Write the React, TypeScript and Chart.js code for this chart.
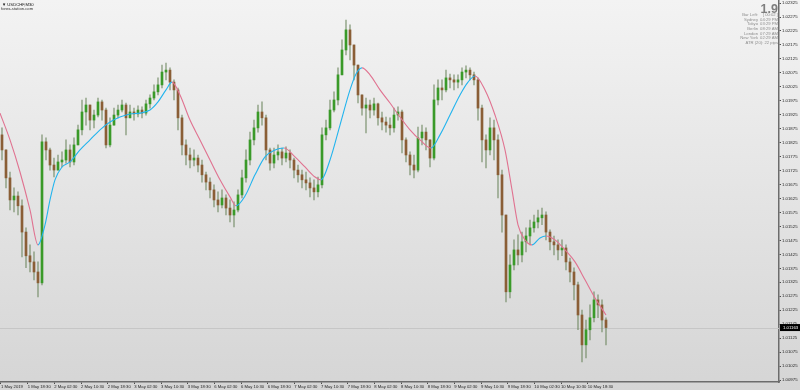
import React, { useEffect, useRef } from "react";
import { Chart, registerables } from "chart.js";

Chart.register(...registerables);

// ---- data (USDCHF M30) ----
const firstOpen = 1.01853;

const closes = [
  1.01799, 1.01699, 1.0162, 1.01634, 1.01599, 1.01505, 1.0142, 1.01398, 1.01362, 1.01323,
  1.01828, 1.01799, 1.01745, 1.01727, 1.01756, 1.01763, 1.01799, 1.01756, 1.01817, 1.01871,
  1.01935, 1.0196, 1.01906, 1.01924, 1.01971, 1.01942, 1.01817, 1.01888, 1.01924, 1.01942,
  1.0196, 1.01914, 1.01935, 1.01928, 1.01942, 1.01931, 1.01964, 1.01985, 1.02007, 1.02032,
  1.02078, 1.02085, 1.02042, 1.02014, 1.01914, 1.01817, 1.01781, 1.01763, 1.0177, 1.01745,
  1.0171, 1.01684, 1.01656, 1.0162, 1.01602, 1.01627, 1.01591, 1.01566, 1.01584, 1.01638,
  1.01699, 1.01763, 1.01835, 1.01878, 1.01935, 1.01914, 1.01799, 1.01752, 1.01781, 1.01792,
  1.0177, 1.01788, 1.01763, 1.01727, 1.0171, 1.01692, 1.01681, 1.01663, 1.01649, 1.01674,
  1.01853, 1.01878, 1.01942, 1.01978, 1.02068, 1.02157, 1.02229, 1.02175, 1.02103, 1.01996,
  1.01949, 1.0196, 1.01942, 1.01964, 1.01914, 1.01899, 1.01888, 1.01878, 1.01924, 1.01935,
  1.01835, 1.01781, 1.01745, 1.01727, 1.01842, 1.01863, 1.01835, 1.0177, 1.01978, 1.02021,
  1.02014, 1.02057, 1.0205, 1.02042, 1.0205, 1.02078, 1.02085, 1.02068, 1.0205, 1.01949,
  1.01835, 1.01799, 1.01878, 1.01835, 1.0171, 1.01566, 1.01291, 1.01387, 1.01441, 1.01423,
  1.0147, 1.01491, 1.0152, 1.01541, 1.01556, 1.01566, 1.01505, 1.0147, 1.01459, 1.01441,
  1.01448, 1.01398, 1.01362, 1.01316, 1.01208, 1.01101, 1.01155, 1.01198, 1.01262, 1.01244,
  1.0119, 1.01163,
];

const highs = [
  1.01878, 1.01799, 1.0172, 1.01663, 1.01649, 1.0162, 1.0152, 1.01459, 1.01434, 1.01398,
  1.01853, 1.01842, 1.01806, 1.0177, 1.01781, 1.01792, 1.01835, 1.01817, 1.01842, 1.01888,
  1.01978, 1.01985, 1.0196, 1.01942, 1.01985, 1.01978, 1.01949, 1.01914, 1.01949, 1.0196,
  1.01978, 1.01967, 1.0196, 1.01949, 1.01957, 1.01953, 1.01978, 1.01996, 1.02032, 1.02057,
  1.02103, 1.0211, 1.02093, 1.0205, 1.02021, 1.01924, 1.01835, 1.01806, 1.01799, 1.01781,
  1.01763, 1.0172, 1.01699, 1.01674, 1.01649, 1.01656, 1.01638, 1.0162, 1.01613, 1.01656,
  1.01727, 1.01799, 1.01863, 1.01906, 1.0196, 1.01971, 1.01924, 1.01806, 1.01806, 1.01817,
  1.01806, 1.0181, 1.01799, 1.0177, 1.01745, 1.01727, 1.0172, 1.01699, 1.01692, 1.01702,
  1.01878, 1.01906, 1.01978, 1.02007, 1.02093, 1.02193, 1.02264, 1.02247, 1.02175, 1.02103,
  1.01996, 1.01985, 1.01978, 1.01985, 1.01967, 1.01935, 1.01917, 1.01914, 1.01949, 1.01953,
  1.01942, 1.01842, 1.01792, 1.01781, 1.01881, 1.01888, 1.01878, 1.01835, 1.02032, 1.0205,
  1.0205, 1.02085, 1.02071, 1.02068, 1.02068, 1.02093, 1.021, 1.02093, 1.02078, 1.02057,
  1.0196, 1.01853, 1.01914, 1.01906, 1.01853, 1.01727, 1.01566, 1.01423, 1.01477, 1.01495,
  1.01505, 1.0152, 1.01548, 1.01566, 1.01584, 1.01591, 1.01577, 1.01513, 1.01491, 1.01477,
  1.01477, 1.01459, 1.01412, 1.01377, 1.01326, 1.01226, 1.0119, 1.01244, 1.01291, 1.0128,
  1.01262, 1.01198,
];

const lows = [
  1.01763, 1.01663, 1.01584, 1.01577, 1.01566, 1.01416, 1.01377, 1.01362, 1.01334, 1.01273,
  1.01316, 1.01763, 1.01727, 1.01702, 1.01727, 1.01738, 1.01752, 1.01738, 1.01745, 1.01817,
  1.01853, 1.01888, 1.01871, 1.01878, 1.01917, 1.01906, 1.01806, 1.0181, 1.01888, 1.01914,
  1.01935, 1.01853, 1.01914, 1.01906, 1.01917, 1.01914, 1.01924, 1.01949, 1.01978, 1.01996,
  1.02021, 1.0205, 1.02014, 1.01978, 1.01871, 1.01781, 1.01745, 1.01735, 1.01742, 1.0172,
  1.01684, 1.01656, 1.01627, 1.01595, 1.01577, 1.01591, 1.01566, 1.01541, 1.01523, 1.01577,
  1.01627, 1.01684, 1.01745, 1.01817, 1.01863, 1.01888, 1.01763, 1.01727, 1.01735, 1.01763,
  1.01745, 1.01756, 1.01735, 1.01699, 1.01684, 1.01663, 1.01656, 1.01631, 1.0162, 1.01631,
  1.01663, 1.01835, 1.01871, 1.01935, 1.0196, 1.02068, 1.02139, 1.02121, 1.0205, 1.01967,
  1.01924, 1.0186, 1.01914, 1.01924, 1.01888, 1.01871, 1.01863, 1.01853, 1.01863, 1.01906,
  1.01788, 1.01756, 1.0171, 1.01699, 1.0172, 1.01817, 1.01799, 1.01738, 1.01763, 1.0196,
  1.01978, 1.02007, 1.02021, 1.02014, 1.02021, 1.02032, 1.02057, 1.0205, 1.02032, 1.01906,
  1.01756, 1.01735, 1.01781, 1.01763, 1.01627, 1.01505, 1.01255, 1.01269, 1.01369, 1.01387,
  1.01398, 1.01434, 1.01459, 1.01505, 1.0152, 1.01531, 1.01477, 1.01441, 1.01423, 1.01405,
  1.0142, 1.01369, 1.01326, 1.01262, 1.01155, 1.0104, 1.01054, 1.01119, 1.01183, 1.01198,
  1.01147, 1.01101,
];

// smoothed moving average (bar position, value)
const maBars = [
  -0.5, 2, 4.5, 7, 9, 10.75, 12, 13.25, 15, 17, 19.5, 22, 24.5, 27, 29.5, 32, 34.5, 37, 39, 41,
  42.5, 44.5, 47, 49.5, 52, 54.5, 57, 58.5, 60.75, 63.25, 65.75, 68.25, 70.5, 73.25, 75.75,
  78.25, 79.75, 82, 84.5, 87, 88.5, 90, 92, 94.5, 97, 99.5, 102, 104.5, 107.25, 109.5, 112,
  114.5, 116.5, 118.25, 120.75, 123.25, 125.75, 127.5, 129, 130.75, 132.5, 134.5, 136, 138.25,
  140.75, 143.25, 145.75, 148.25, 151,
];
const maValues = [
  1.01931, 1.01835, 1.0172, 1.01584, 1.01459, 1.01531, 1.0162, 1.01692, 1.01738, 1.01756,
  1.01799, 1.01835, 1.01871, 1.01899, 1.01917, 1.01928, 1.01931, 1.01942, 1.01971, 1.02014,
  1.02042, 1.01996, 1.01906, 1.01835, 1.01763, 1.01692, 1.01631, 1.01599, 1.01634, 1.0171,
  1.01774, 1.01799, 1.01806, 1.01774, 1.01738, 1.01702, 1.01692, 1.01763, 1.01888, 1.02014,
  1.02071, 1.02093, 1.02068, 1.02014, 1.01967, 1.01917, 1.01871, 1.01835, 1.01806, 1.01853,
  1.01924, 1.01996, 1.02042, 1.02064, 1.02014, 1.01924, 1.01799, 1.01656, 1.01531, 1.01477,
  1.01459, 1.01484, 1.01491, 1.01477, 1.01441, 1.01398, 1.01334, 1.01269, 1.01208,
];

const timeLabels = [
  "1 May 2019", "1 May 18:30", "2 May 02:30", "2 May 10:30", "2 May 18:30", "3 May 02:30",
  "3 May 10:30", "3 May 18:30", "6 May 02:30", "6 May 10:30", "6 May 18:30", "7 May 02:30",
  "7 May 10:30", "7 May 18:30", "8 May 02:30", "8 May 10:30", "8 May 18:30", "9 May 02:30",
  "9 May 10:30", "9 May 18:30", "10 May 02:30", "10 May 10:30", "10 May 18:30",
];

const priceTicks = [
  1.00975, 1.01025, 1.01075, 1.01125, 1.01175, 1.01225, 1.01275, 1.01325, 1.01375, 1.01425,
  1.01475, 1.01525, 1.01575, 1.01625, 1.01675, 1.01725, 1.01775, 1.01825, 1.01875, 1.01925,
  1.01975, 1.02025, 1.02075, 1.02125, 1.02175, 1.02225, 1.02275, 1.02325,
];

const currentPrice = 1.01163;
const symbolTitle = "▼ USDCHF,M30";
const siteTitle = "forex-station.com";
const bigValue = "1.9";
const infoLabels = ["Bar Left:", "Sydney", "Tokyo", "Berlin", "London", "New York"];
const infoValues = ["[ 00:02 ]", "04:29 PM", "03:29 PM", "08:29 AM", "07:29 AM", "02:29 AM"];
const atrText = "ATR (20): 22 pips";

// ---- styling ----
const FONT = "'Liberation Sans', Arial, sans-serif";
const BULL = "#3a9a29";
const BEAR = "#8a5e36";
const WICK = "rgba(105,130,90,0.62)";
const MA_UP = "#22b4ee";
const MA_DOWN = "#e07290";

const overlayPlugin = {
  id: "mtOverlay",
  beforeDraw(chart: any) {
    const { ctx, width, height } = chart;
    const g = ctx.createLinearGradient(0, 0, 0, height);
    g.addColorStop(0, "#f3f3f3");
    g.addColorStop(1, "#d5d5d5");
    ctx.save();
    ctx.fillStyle = g;
    ctx.fillRect(0, 0, width, height);
    ctx.restore();
  },
  beforeDatasetsDraw(chart: any) {
    const { ctx, chartArea } = chart;
    const y = Math.round(chart.scales.y.getPixelForValue(currentPrice)) + 0.5;
    ctx.save();
    ctx.strokeStyle = "#c6c6c6";
    ctx.lineWidth = 1;
    ctx.beginPath();
    ctx.moveTo(chartArea.left, y);
    ctx.lineTo(chartArea.right, y);
    ctx.stroke();
    ctx.restore();
  },
  afterDraw(chart: any) {
    const { ctx, chartArea, width } = chart;
    const y = chart.scales.y.getPixelForValue(currentPrice);
    ctx.save();
    // current price box
    ctx.fillStyle = "#000";
    ctx.fillRect(chartArea.right + 1, y - 3.5, width - chartArea.right - 1, 7);
    ctx.fillStyle = "#fff";
    ctx.font = `4.3px ${FONT}`;
    ctx.textBaseline = "middle";
    ctx.textAlign = "left";
    ctx.fillText(currentPrice.toFixed(5), chartArea.right + 4, y + 0.3);

    // top-left title
    ctx.fillStyle = "#111";
    ctx.font = `4.2px ${FONT}`;
    ctx.textBaseline = "middle";
    ctx.fillText(symbolTitle, 2, 4.5);
    ctx.fillStyle = "#333";
    ctx.fillText(siteTitle, 1, 9);

    // info panel
    const rx = chartArea.right - 1;
    ctx.fillStyle = "#7e7e7e";
    ctx.font = `bold 12.5px ${FONT}`;
    ctx.textAlign = "right";
    ctx.textBaseline = "alphabetic";
    ctx.fillText(bigValue, rx, 12.5);
    ctx.fillStyle = "#8e8e8e";
    ctx.font = `4.2px ${FONT}`;
    ctx.textBaseline = "middle";
    const rows = [15, 19.7, 24.3, 29, 33.7, 38.3];
    infoLabels.forEach((lab, i) => {
      ctx.fillText(lab, rx - 20, rows[i]);
      ctx.fillText(infoValues[i], rx, rows[i]);
    });
    ctx.fillText(atrText, rx, 43);
    ctx.restore();
  },
};

export default function App() {
  const ref = useRef<HTMLCanvasElement | null>(null);

  useEffect(() => {
    document.body.style.margin = "0";
    const canvas = ref.current;
    if (!canvas) return;

    const opens = closes.map((_, i) => (i === 0 ? firstOpen : closes[i - 1]));
    const wickData = closes.map((_, i) => ({ x: i, y: [lows[i], highs[i]] }));
    const bodyData = closes.map((c, i) => ({ x: i, y: [opens[i], c] }));
    const bodyColors = closes.map((c, i) => (c >= opens[i] ? BULL : BEAR));
    const maData = maBars.map((b, i) => ({ x: b, y: maValues[i] }));

    const chart = new Chart(canvas, {
      type: "bar",
      data: {
        datasets: [
          {
            type: "line",
            data: maData,
            borderWidth: 1.1,
            pointRadius: 0,
            cubicInterpolationMode: "monotone",
            fill: false,
            order: 0,
            borderColor: MA_UP,
            segment: {
              borderColor: (c: any) => (c.p1.parsed.y >= c.p0.parsed.y ? MA_UP : MA_DOWN),
            },
          } as any,
          {
            type: "bar",
            data: bodyData,
            backgroundColor: bodyColors,
            borderWidth: 0,
            barThickness: 2,
            grouped: false,
            minBarLength: 1,
            order: 1,
          } as any,
          {
            type: "bar",
            data: wickData,
            backgroundColor: WICK,
            borderWidth: 0,
            barThickness: 1,
            grouped: false,
            order: 2,
          } as any,
        ],
      },
      options: {
        responsive: false,
        animation: false,
        devicePixelRatio: 1,
        events: [],
        layout: { padding: 0 },
        plugins: { legend: { display: false }, tooltip: { enabled: false } },
        scales: {
          x: {
            type: "linear",
            min: -0.5,
            max: 194.25,
            offset: false,
            bounds: "data",
            grid: {
              display: true,
              drawOnChartArea: false,
              drawTicks: true,
              tickLength: 2,
              color: "#4a4a4a",
              offset: false,
            },
            border: { display: true, color: "#6c6c6c", width: 1.5 },
            ticks: {
              autoSkip: false,
              maxRotation: 0,
              minRotation: 0,
              align: "start",
              padding: 0,
              color: "#1e1e1e",
              font: { family: FONT, size: 4.2 },
              callback: (_v: any, i: number) => timeLabels[i] ?? "",
            },
            afterBuildTicks: (s: any) => {
              s.ticks = timeLabels.map((_, k) => ({ value: -0.25 + (k * 20) / 3 }));
            },
            afterFit: (s: any) => {
              s.height = 8;
              s.paddingLeft = 0;
              s.paddingRight = 0;
            },
          },
          y: {
            type: "linear",
            position: "right",
            min: 1.00968,
            max: 1.02336,
            bounds: "data",
            beginAtZero: false,
            grid: {
              display: true,
              drawOnChartArea: false,
              drawTicks: true,
              tickLength: 2,
              color: "#4a4a4a",
            },
            border: { display: true, color: "#6c6c6c", width: 1.5 },
            ticks: {
              padding: 1,
              color: "#1e1e1e",
              font: { family: FONT, size: 4.3 },
              callback: (v: any) => Number(v).toFixed(5),
            },
            afterBuildTicks: (s: any) => {
              s.ticks = priceTicks.map((v) => ({ value: v }));
            },
            afterFit: (s: any) => {
              s.width = 21;
              s.paddingTop = 0;
              s.paddingBottom = 0;
            },
          },
        },
      } as any,
      plugins: [overlayPlugin],
    });

    return () => chart.destroy();
  }, []);

  return <canvas ref={ref} width={800} height={390} style={{ display: "block" }} />;
}
